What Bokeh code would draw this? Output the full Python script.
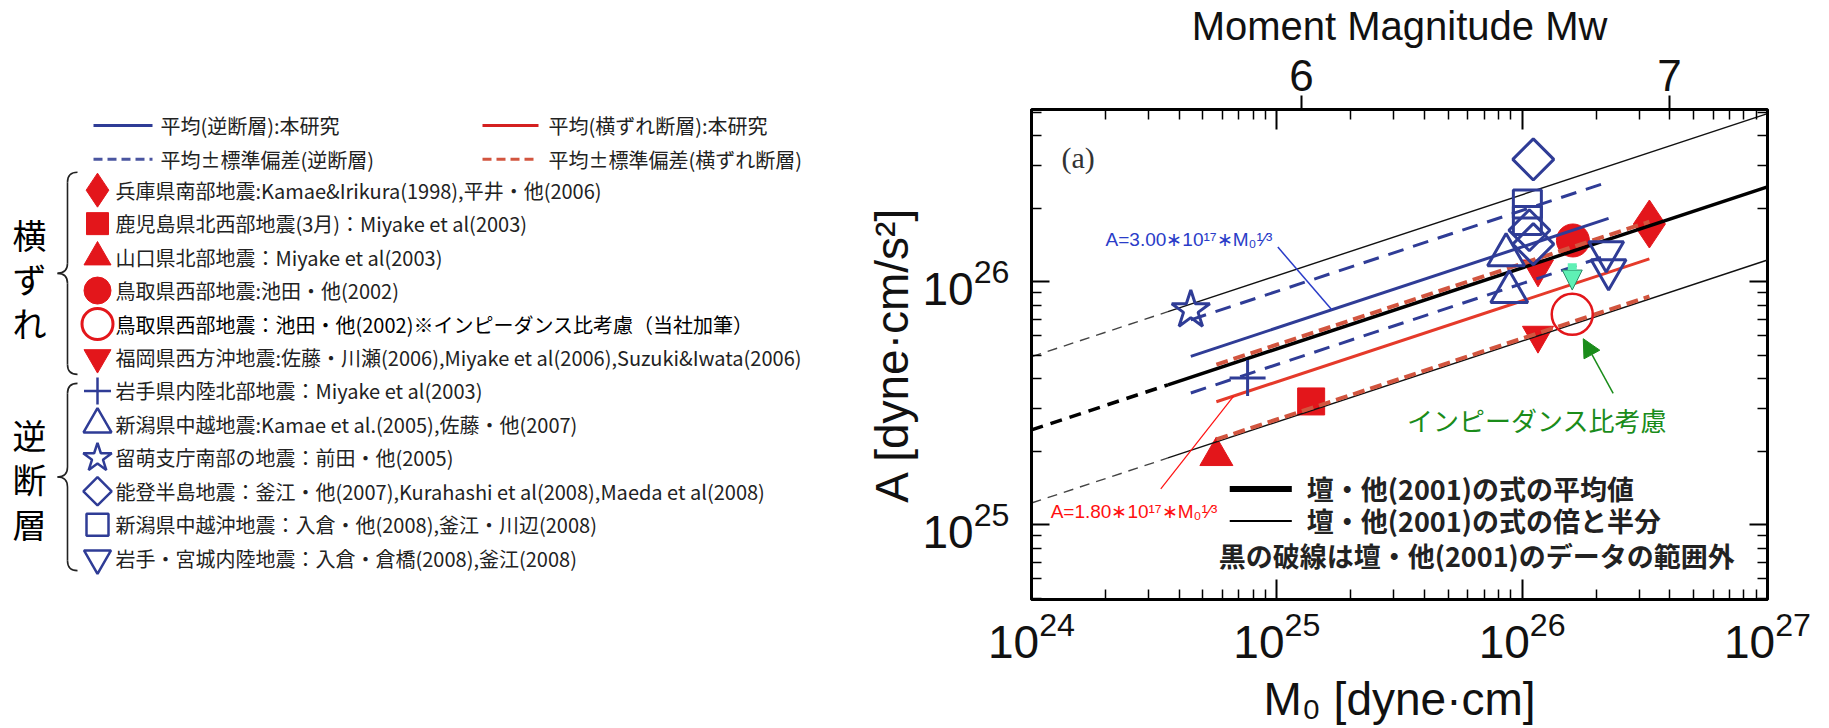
import numpy as np
from bokeh.plotting import figure
from bokeh.layouts import row
from bokeh.models import (Range1d, LogAxis, LinearAxis, LinearScale, FixedTicker,
                          Arrow, NormalHead)
from bokeh.embed import file_html
from bokeh.resources import INLINE
from bokeh.core.properties import value

# ---------------- data ----------------
# strike-slip events (横ずれ断層) - red
hyogo_m0 = [3.30e26];              hyogo_a = [1.73e26]
kagoshima_m0 = [1.38e25];          kagoshima_a = [3.22e25]
yamaguchi_m0 = [5.67e24];          yamaguchi_a = [1.92e25]
tottori_m0 = [1.61e26];            tottori_a = [1.48e26]
tottori_imp_m0 = [1.60e26];        tottori_imp_a = [7.35e25]
fukuoka_m0 = [1.16e26, 1.16e26];   fukuoka_a = [6.03e25, 1.13e26]
# reverse-fault events (逆断層) - blue
iwate_m0 = [7.6e24];               iwate_a = [4.02e25]
chuetsu_m0 = [8.86e25, 8.60e25];   chuetsu_a = [9.10e25, 1.29e26]
rumoi_m0 = [4.46e24];              rumoi_a = [7.66e25]
noto_m0 = [1.11e26, 1.07e26, 1.11e26]; noto_a = [3.19e26, 1.63e26, 1.43e26]
chuetsuoki_m0 = [1.05e26, 1.05e26];    chuetsuoki_a = [2.09e26, 1.79e26]
iwamiya_m0 = [2.20e26, 2.25e26];       iwamiya_a = [1.33e26, 1.12e26]

# scaling relations  A = c * M0^(1/3)
coef_rev_mean = 3.00e17
coef_rev_sd = [4.24e17, 2.12e17]
coef_ss_mean = 1.80e17
coef_ss_sd = [2.56e17, 1.26e17]
coef_dan = 2.46e17
dan_factor = [2.0, 0.5]
dan_m0_min = 3.6e24

m0_lim = [1e24, 1e27]
a_lim = [4.93e24, 5.12e26]
m0_ticks = [1e24, 1e25, 1e26, 1e27]
a_ticks = [1e25, 1e26]
mw_ticks = [6, 7]

legend_head = ["平均(逆断層):本研究", "平均±標準偏差(逆断層)",
               "平均(横ずれ断層):本研究", "平均±標準偏差(横ずれ断層)"]
legend_rows = [
    "兵庫県南部地震:Kamae&Irikura(1998),平井・他(2006)",
    "鹿児島県北西部地震(3月)：Miyake et al(2003)",
    "山口県北部地震：Miyake et al(2003)",
    "鳥取県西部地震:池田・他(2002)",
    "鳥取県西部地震：池田・他(2002)※インピーダンス比考慮（当社加筆）",
    "福岡県西方沖地震:佐藤・川瀬(2006),Miyake et al(2006),Suzuki&Iwata(2006)",
    "岩手県内陸北部地震：Miyake et al(2003)",
    "新潟県中越地震:Kamae et al.(2005),佐藤・他(2007)",
    "留萌支庁南部の地震：前田・他(2005)",
    "能登半島地震：釜江・他(2007),Kurahashi et al(2008),Maeda et al(2008)",
    "新潟県中越沖地震：入倉・他(2008),釜江・川辺(2008)",
    "岩手・宮城内陸地震：入倉・倉橋(2008),釜江(2008)",
]
group_labels = [["横", "ず", "れ"], ["逆", "断", "層"]]
plot_legend = ["壇・他(2001)の式の平均値", "壇・他(2001)の式の倍と半分",
               "黒の破線は壇・他(2001)のデータの範囲外"]

# ---------------- style ----------------
BLUE = "#2f3c96"
BLUE_T = "#2a3cc8"
RED = "#e3161b"
RED_L = "#e53a2a"
RED_D = "#d2553f"
GREEN = "#1a8c1a"
MINT = "#5ff0b5"
JP = "Noto Sans CJK JP"
SANS = "Liberation Sans"
NARROW = "Liberation Sans Narrow, Liberation Sans"

H = 728
LW = 848
RW = 981
TOP, BOTTOM = 107, 129          # frame borders shared by both panels (row aligns frames)


def rel(c, m0s):
    return [c * m ** (1.0 / 3.0) for m in m0s]


# ======================= right: the chart =======================
p = figure(width=RW, height=H, x_axis_type="log", y_axis_type="log",
           x_range=Range1d(*m0_lim), y_range=Range1d(*a_lim),
           output_backend="svg", toolbar_location=None,
           min_border_left=183, min_border_right=62,
           min_border_top=TOP, min_border_bottom=BOTTOM)
p.grid.visible = False
p.outline_line_color = "black"
p.outline_line_width = 3
p.background_fill_color = "white"
p.border_fill_color = "white"

minor_m0 = [k * 10.0 ** e for e in range(24, 27) for k in range(2, 10)]
minor_a = [k * 10.0 ** e for e in range(24, 27) for k in range(2, 10)]


def style_ticks(ax, major=20, minor=10):
    ax.major_tick_in = major
    ax.major_tick_out = 0
    ax.minor_tick_in = minor
    ax.minor_tick_out = 0
    ax.major_tick_line_width = 2
    ax.minor_tick_line_width = 1.5
    ax.major_tick_line_color = "black"
    ax.minor_tick_line_color = "black"


def hide_labels(ax):
    ax.major_label_text_font_size = "1px"
    ax.major_label_text_color = None
    ax.major_label_standoff = 0
    ax.axis_line_color = None


xb = p.below[0]
xb.ticker = FixedTicker(ticks=m0_ticks, minor_ticks=minor_m0)
style_ticks(xb)
xb.axis_line_width = 3
xb.major_label_text_font = SANS
xb.major_label_text_font_size = "46px"
xb.major_label_text_color = "#111"
xb.major_label_standoff = 11
xb.axis_label = "M₀ [dyne·cm]"
xb.axis_label_text_font = SANS
xb.axis_label_text_font_size = "46px"
xb.axis_label_text_font_style = "normal"
xb.axis_label_text_color = "#111"
xb.axis_label_standoff = 12

yl = p.left[0]
yl.ticker = FixedTicker(ticks=a_ticks, minor_ticks=minor_a)
style_ticks(yl, 18, 10)
yl.axis_line_width = 3
yl.major_label_text_font = SANS
yl.major_label_text_font_size = "46px"
yl.major_label_text_color = "#111"
yl.major_label_standoff = 22
yl.axis_label = "A [dyne·cm/s²]"
yl.axis_label_text_font = SANS
yl.axis_label_text_font_size = "46px"
yl.axis_label_text_font_style = "normal"
yl.axis_label_text_color = "#111"
yl.axis_label_standoff = 2

# mirrored M0 ticks on top (innermost), then Mw axis
top_m0 = LogAxis(ticker=FixedTicker(ticks=m0_ticks, minor_ticks=minor_m0))
style_ticks(top_m0)
hide_labels(top_m0)
p.add_layout(top_m0, "above")

p.extra_x_ranges = {"mw": Range1d(float((np.log10(m0_lim[0]) - 16.1) / 1.5),
                                  float((np.log10(m0_lim[1]) - 16.1) / 1.5))}
p.extra_x_scales = {"mw": LinearScale()}
mw_axis = LinearAxis(x_range_name="mw", ticker=FixedTicker(ticks=mw_ticks, minor_ticks=[]),
                     axis_label="Moment Magnitude Mw", axis_line_color=None,
                     major_tick_in=0, major_tick_out=14, minor_tick_in=0, minor_tick_out=0,
                     major_tick_line_width=2, major_label_standoff=5,
                     major_label_text_font=SANS, major_label_text_font_size="44px",
                     major_label_text_color="#111",
                     axis_label_text_font=SANS, axis_label_text_font_size="40px",
                     axis_label_text_font_style="normal", axis_label_text_color="#111",
                     axis_label_standoff=9)
p.add_layout(mw_axis, "above")

right_a = LogAxis(ticker=FixedTicker(ticks=a_ticks, minor_ticks=minor_a))
style_ticks(right_a, 18, 10)
hide_labels(right_a)
p.add_layout(right_a, "right")

# --- red filled markers (under the lines)
p.scatter(hyogo_m0, hyogo_a, marker="diamond", size=48, color=RED)
p.scatter(kagoshima_m0, kagoshima_a, marker="square", size=27, color=RED)
p.scatter(yamaguchi_m0, yamaguchi_a, marker="triangle", size=33, color=RED)
p.scatter(tottori_m0, tottori_a, marker="circle", size=33, color=RED)
p.scatter(fukuoka_m0, fukuoka_a, marker="inverted_triangle", size=31, color=RED)

# --- Dan et al. (2001): mean, x2 and x0.5; dashed outside their data
x_dash = [m0_lim[0], dan_m0_min]
x_sol = [dan_m0_min, m0_lim[1]]
for f in dan_factor:
    p.line(x_dash, rel(coef_dan * f, x_dash), line_width=1.4, line_dash="10 7", color="#444")
    p.line(x_sol, rel(coef_dan * f, x_sol), line_width=1.4, color="#111")
p.line(x_dash, rel(coef_dan, x_dash), line_width=3.5, line_dash="12 8", color="black")
p.line(x_sol, rel(coef_dan, x_sol), line_width=3.5, color="black")

# --- strike-slip mean and +-sd over the strike-slip data range
ss_all = hyogo_m0 + kagoshima_m0 + yamaguchi_m0 + tottori_m0 + fukuoka_m0
x_ss = [min(ss_all), max(ss_all)]
p.line(x_ss, rel(coef_ss_mean, x_ss), line_width=3, color=RED_L)
for c in coef_ss_sd:
    p.line(x_ss, rel(c, x_ss), line_width=4, line_dash="12 6", color=RED_D)

# --- reverse mean and +-sd over the reverse data range
rev_all = iwate_m0 + chuetsu_m0 + rumoi_m0 + noto_m0 + chuetsuoki_m0 + iwamiya_m0
x_rev = [min(rev_all), max(rev_all)]
p.line(x_rev, rel(coef_rev_mean, x_rev), line_width=3, color=BLUE)
for c in coef_rev_sd:
    p.line(x_rev, rel(c, x_rev), line_width=3, line_dash="16 10", color=BLUE)

# --- blue open markers
op = dict(fill_color=None, line_color=BLUE, line_width=3)
p.scatter(iwate_m0, iwate_a, marker="cross", size=36, **op)
p.scatter(chuetsu_m0, chuetsu_a, marker="triangle", size=37, **op)
p.scatter(rumoi_m0, rumoi_a, marker="star", size=40, **op)
p.scatter(noto_m0, noto_a, marker="square", angle=np.pi / 4, size=29, **op)
p.scatter(chuetsuoki_m0, chuetsuoki_a, marker="square", size=28, **op)
p.scatter(iwamiya_m0, iwamiya_a, marker="inverted_triangle", size=35, **op)
# impedance-corrected Tottori point
p.scatter(tottori_imp_m0, tottori_imp_a, marker="circle", size=41,
          fill_color=None, line_color=RED, line_width=2.5)

# --- annotations
p.text([10 ** 24.19], [10 ** 26.51], text=["(a)"], text_font=value("Liberation Serif"),
       text_font_size="30px", text_align="center", text_baseline="middle", text_color="#333")

rev_lead = [10 ** 25.004, 10 ** 25.224]
p.line(rev_lead, [10 ** 26.143, rel(coef_rev_mean, [rev_lead[1]])[0]],
       line_width=1.5, color=BLUE_T)
p.text([10 ** 24.302], [10 ** 26.176], text=["A=3.00∗10¹⁷∗M₀¹⁄³"], text_font=value(NARROW),
       text_font_size="19px", text_align="left", text_baseline="middle", text_color=BLUE_T)

ss_lead = [10 ** 24.527, 10 ** 24.824]
p.line(ss_lead, [10 ** 25.148, rel(coef_ss_mean, [ss_lead[1]])[0]],
       line_width=1.2, color="#ff1010")
p.text([10 ** 24.078], [10 ** 25.053], text=["A=1.80∗10¹⁷∗M₀¹⁄³"], text_font=value(NARROW),
       text_font_size="19px", text_align="left", text_baseline="middle", text_color="#ff1010")

p.text([10 ** 25.531], [10 ** 25.434], text=["インピーダンス比考慮"], text_font=value(JP),
       text_font_size="26px", text_align="left", text_baseline="middle", text_color=GREEN)
p.add_layout(Arrow(end=NormalHead(size=18, fill_color=GREEN, line_color=GREEN),
                   x_start=10 ** 26.371, y_start=10 ** 25.541,
                   x_end=10 ** 26.249, y_end=10 ** 25.766,
                   line_color=GREEN, line_width=1.5))
p.add_layout(Arrow(end=NormalHead(size=20, fill_color=MINT, line_color="#2b8a66", line_width=1),
                   x_start=tottori_imp_m0[0], y_start=tottori_imp_a[0] * 10 ** 0.21,
                   x_end=tottori_imp_m0[0], y_end=tottori_imp_a[0] * 10 ** 0.10,
                   line_color=MINT, line_width=9))

# in-plot legend (bottom right)
lx = [10 ** 24.808, 10 ** 25.061]
p.line(lx, [10 ** 25.148] * 2, line_width=6, color="black")
p.line(lx, [10 ** 25.016] * 2, line_width=2, color="black")
p.text([10 ** 25.122, 10 ** 25.122, 10 ** 24.763], [10 ** 25.148, 10 ** 25.016, 10 ** 24.873],
       text=plot_legend, text_font=value(JP), text_font_size="27px", text_font_style="bold",
       text_align="left", text_baseline="middle", text_color="#222")

# ======================= left: the legend panel =======================
# data coordinates of this panel are page pixels (its frame is aligned with the chart frame)
L = figure(width=LW, height=H, x_range=Range1d(0, LW), y_range=Range1d(H - BOTTOM, TOP),
           output_backend="svg", toolbar_location=None,
           x_axis_type=None, y_axis_type=None,
           min_border_left=0, min_border_right=0,
           min_border_top=TOP, min_border_bottom=BOTTOM)
L.outline_line_color = None
L.grid.visible = False

# header lines
L.line([93, 152], [123, 123], line_width=3, color=BLUE)
L.line([93, 152], [157, 157], line_width=3, line_dash="9 5", color="#4a55a0")
L.line([482, 538], [123, 123], line_width=3, color="#d42020")
L.line([482, 538], [157, 157], line_width=3, line_dash="9 5", color="#d2553f")
L.text([160, 160, 548, 548], [123, 157, 123, 157], text=legend_head,
       text_font=value(JP), text_font_size="20px", text_align="left",
       text_baseline="middle", text_color="#222")

row_y = [188 + 33.6 * i for i in range(len(legend_rows))]
mx = [97] * len(legend_rows)
red_f = dict(color=RED)
L.scatter(mx[0:1], row_y[0:1], marker="diamond", size=34, **red_f)
L.scatter(mx[1:2], row_y[1:2], marker="square", size=22, **red_f)
L.scatter(mx[2:3], row_y[2:3], marker="triangle", size=27, **red_f)
L.scatter(mx[3:4], row_y[3:4], marker="circle", size=27, **red_f)
L.scatter(mx[4:5], row_y[4:5], marker="circle", size=31, fill_color=None,
          line_color=RED, line_width=3)
L.scatter(mx[5:6], row_y[5:6], marker="inverted_triangle", size=27, **red_f)
lo = dict(fill_color=None, line_color=BLUE, line_width=2.5)
L.scatter(mx[6:7], row_y[6:7], marker="cross", size=27, **lo)
L.scatter(mx[7:8], row_y[7:8], marker="triangle", size=28, **lo)
L.scatter(mx[8:9], row_y[8:9], marker="star", size=30, **lo)
L.scatter(mx[9:10], row_y[9:10], marker="square", angle=np.pi / 4, size=20, **lo)
L.scatter(mx[10:11], row_y[10:11], marker="square", size=22, **lo)
L.scatter(mx[11:12], row_y[11:12], marker="inverted_triangle", size=27, **lo)

txt_x = [115] * len(legend_rows)
colors = ["#222"] * len(legend_rows)
colors[4] = "black"
L.text(txt_x, row_y, text=legend_rows, text_font=value(JP), text_font_size="20px",
       text_align="left", text_baseline="middle", text_color=colors)

for chars, yc, dy in zip(group_labels, [277, 478], [44, 45]):
    L.text([29] * 3, [yc - dy, yc, yc + dy], text=chars, text_font=value(JP),
           text_font_size="34px", text_align="center", text_baseline="middle",
           text_color="black")


def brace(fig, x_tip, x_end, y0, y1, r=10):
    xm = (x_tip + x_end) / 2.0
    ym = (y0 + y1) / 2.0
    fig.quadratic(x0=[x_end, xm, x_tip, xm], y0=[y0, ym - r, ym, y1 - r],
                  x1=[xm, x_tip, xm, x_end], y1=[y0 + r, ym, ym + r, y1],
                  cx=[xm, xm, xm, xm], cy=[y0, ym, ym, y1],
                  line_color="#222", line_width=1.6)
    fig.segment(x0=[xm, xm], y0=[y0 + r, ym + r], x1=[xm, xm], y1=[ym - r, y1 - r],
                line_color="#222", line_width=1.6)


brace(L, 57, 77, 170, 373)
brace(L, 57, 77, 382, 570)

layout = row(L, p)
open("out.html", "w").write(file_html(layout, INLINE))
